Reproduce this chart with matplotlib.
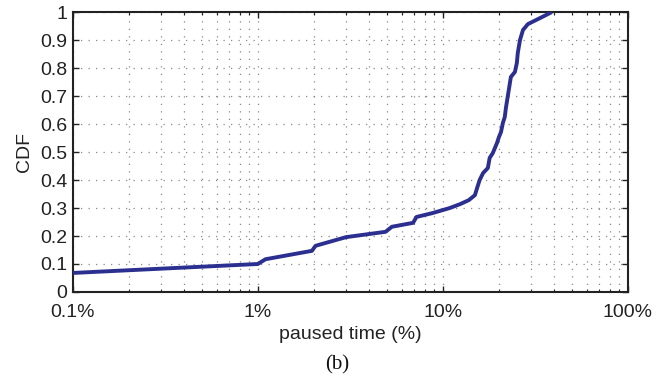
import matplotlib
matplotlib.use("Agg")
import matplotlib.pyplot as plt
from matplotlib.ticker import LogLocator, NullFormatter

paused_pct = [0.1, 0.316, 1.0, 1.1, 1.96, 2.05, 3.0, 4.9, 5.3, 6.9, 7.2, 8.8, 10.9,
              12.4, 13.8, 14.9, 15.3, 15.8, 16.5, 17.5, 17.9, 18.6, 19.6, 20.1, 20.6,
              21.1, 21.6, 21.9, 22.7, 23.3, 24.5, 25.1, 25.4, 26.1, 27.1, 28.8,
              34.3, 38.8]
cdf = [0.068, 0.084, 0.100, 0.117, 0.147, 0.165, 0.196, 0.215, 0.233, 0.247, 0.268,
       0.282, 0.300, 0.314, 0.328, 0.346, 0.371, 0.400, 0.425, 0.443, 0.479, 0.496,
       0.532, 0.554, 0.571, 0.604, 0.625, 0.657, 0.721, 0.768, 0.786, 0.818, 0.854,
       0.900, 0.936, 0.957, 0.982, 1.000]

xticks = [0.1, 1, 10, 100]
xticklabels = ["0.1%", "1%", "10%", "100%"]
yticks = [0, 0.1, 0.2, 0.3, 0.4, 0.5, 0.6, 0.7, 0.8, 0.9, 1]
yticklabels = ["0", "0.1", "0.2", "0.3", "0.4", "0.5", "0.6", "0.7", "0.8", "0.9", "1"]

plt.rcParams['font.family'] = ['Liberation Sans', 'DejaVu Sans']

fig = plt.figure(figsize=(6.68, 3.77), dpi=100)
ax = fig.add_axes([0.109, 0.2255, 0.831, 0.7425])

ax.plot(paused_pct, cdf, color="#2b2f8f", lw=2.8, solid_capstyle="butt", zorder=3)

ax.set_xscale("log")
ax.set_xlim(0.1, 100)
ax.set_ylim(0, 1)
ax.set_xticks(xticks)
ax.set_xticklabels(xticklabels)
ax.xaxis.set_minor_locator(LogLocator(base=10, subs=range(2, 10)))
ax.xaxis.set_minor_formatter(NullFormatter())
ax.set_yticks(yticks)
ax.set_yticklabels(yticklabels)

grid_kw = dict(color="#888888", linestyle=(0, (1, 5)), linewidth=0.9)
ax.grid(True, which="major", axis="both", **grid_kw)
ax.grid(True, which="minor", axis="x", **grid_kw)

ax.tick_params(which="both", direction="in", top=True, right=True,
               labelsize=14, colors="#222222")
ax.tick_params(which="major", length=4, width=1)
ax.tick_params(which="minor", length=2.5, width=0.8)
ax.tick_params(axis="x", pad=9)
ax.tick_params(axis="y", pad=4)
for s in ax.spines.values():
    s.set_linewidth(1.5)
    s.set_color("#222222")

ax.set_xlabel("paused time (%)", fontsize=14, color="#222222", labelpad=3)
ax.set_ylabel("CDF", fontsize=14, color="#222222", labelpad=5)

fig.text(0.505, 0.032, "(b)", ha="center", va="center", fontsize=15,
         family=["Liberation Serif", "DejaVu Serif"], color="#111111")

fig.savefig("out.png", dpi=100)
